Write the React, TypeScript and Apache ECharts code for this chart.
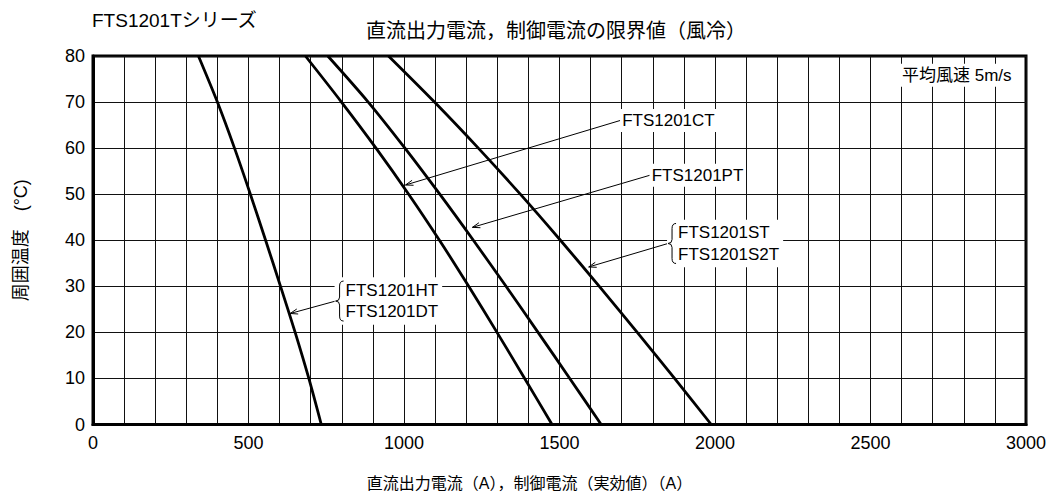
import React, { useEffect, useRef } from "react";
import * as echarts from "echarts";

// ---- data ----
const temperatures = [80, 70, 60, 50, 40, 30, 20, 10, 0];
const currentHT = [339, 400, 455, 506, 555, 603, 650, 694, 734];
const currentCT = [683, 799, 910, 1015, 1114, 1208, 1299, 1388, 1476];
const currentPT = [755, 885, 1003, 1115, 1223, 1328, 1431, 1533, 1634];
const currentST = [950, 1098, 1239, 1374, 1503, 1628, 1750, 1870, 1988];
const curves = [currentHT, currentCT, currentPT, currentST];

const xTicks = [0, 500, 1000, 1500, 2000, 2500, 3000];
const yTicks = [0, 10, 20, 30, 40, 50, 60, 70, 80];

// ---- annotation layout (data coordinates) ----
const annotations = [
  { kind: "label", lines: ["FTS1201CT"], anchor: [1695, 66], tip: [1005, 52] },
  { kind: "label", lines: ["FTS1201PT"], anchor: [1790, 54.1], tip: [1220, 42.8] },
  { kind: "brace", lines: ["FTS1201ST", "FTS1201S2T"], anchor: [1849, 39.3], tip: [1594, 34.2] },
  { kind: "brace", lines: ["FTS1201HT", "FTS1201DT"], anchor: [780, 26.8], tip: [634, 24.1] },
  { kind: "note", lines: ["平均風速 5m/s"], anchor: [2960, 75.8], tip: null },
];

const FAMILY = "'Liberation Sans', Arial, 'Noto Sans CJK JP', sans-serif";
const LABEL_FONT = `17px ${FAMILY}`;

function renderItem(params: any, api: any) {
  const a = annotations[params.dataIndex];
  const p = api.coord(a.anchor);
  const children: any[] = [];
  if (a.kind === "note") {
    children.push({
      type: "text",
      style: {
        text: a.lines[0], x: p[0], y: p[1], textAlign: "right", textVerticalAlign: "middle",
        font: LABEL_FONT, fill: "#000", backgroundColor: "#fff", padding: [3, 2, 3, 2],
      },
    });
    return { type: "group", children };
  }
  const t = api.coord(a.tip);
  children.push({
    type: "line",
    shape: { x1: p[0], y1: p[1], x2: t[0], y2: t[1] },
    style: { stroke: "#000", lineWidth: 1 },
  });
  const ang = Math.atan2(p[1] - t[1], p[0] - t[0]);
  const L = 8, w = 0.33;
  children.push({
    type: "polyline",
    shape: {
      points: [
        [t[0] + L * Math.cos(ang + w), t[1] + L * Math.sin(ang + w)],
        [t[0], t[1]],
        [t[0] + L * Math.cos(ang - w), t[1] + L * Math.sin(ang - w)],
      ],
    },
    style: { stroke: "#000", fill: null, lineWidth: 1 },
  });
  if (a.kind === "brace") {
    const x = p[0], y = p[1];
    children.push({
      type: "text",
      style: {
        text: a.lines.join("\n"), x: x - 1, y, textAlign: "left", textVerticalAlign: "middle",
        font: LABEL_FONT, fill: "#000", lineHeight: 21.7, backgroundColor: "#fff", padding: [2, 4, 2, 11],
      },
    });
    const d = `M${x + 8} ${y - 20} Q${x + 4} ${y - 20} ${x + 4} ${y - 15} L${x + 4} ${y - 4} Q${x + 4} ${y} ${x} ${y} Q${x + 4} ${y} ${x + 4} ${y + 4} L${x + 4} ${y + 15} Q${x + 4} ${y + 20} ${x + 8} ${y + 20}`;
    children.push({
      type: "path",
      shape: { pathData: d },
      style: { stroke: "#000", fill: null, lineWidth: 1 },
    });
  } else {
    children.push({
      type: "text",
      style: {
        text: a.lines[0], x: p[0], y: p[1], textAlign: "left", textVerticalAlign: "middle",
        font: LABEL_FONT, fill: "#000", backgroundColor: "#fff", padding: [3, 2, 3, 2],
      },
    });
  }
  return { type: "group", children };
}

export default function App() {
  const ref = useRef<HTMLDivElement>(null);
  useEffect(() => {
    document.body.style.margin = "0";
    const chart = echarts.init(ref.current!, null, { renderer: "svg" });
    const gridLine = { show: true, lineStyle: { color: "#111", width: 1 } };
    chart.setOption({
      animation: false,
      backgroundColor: "#fff",
      graphic: [
        {
          type: "text", left: 92, top: 11,
          style: { text: "FTS1201Tシリーズ", font: `19px ${FAMILY}`, fill: "#000" },
        },
        {
          type: "text", x: 556, y: 31,
          style: {
            text: "直流出力電流，制御電流の限界値（風冷）", font: `20px ${FAMILY}`, fill: "#000",
            textAlign: "center", textVerticalAlign: "middle",
          },
        },
      ],
      grid: {
        left: 93, top: 56, width: 933, height: 368.5,
        show: true, borderColor: "#000", borderWidth: 3, backgroundColor: "transparent",
      },
      xAxis: {
        type: "value", min: xTicks[0], max: xTicks[xTicks.length - 1], interval: 500,
        axisLine: { show: true, lineStyle: { color: "#000", width: 3 } },
        axisTick: { show: false },
        axisLabel: { fontSize: 18, color: "#000", margin: 9, fontFamily: FAMILY, formatter: (v: number) => String(v) },
        splitLine: gridLine,
        minorTick: { show: false, splitNumber: 5 },
        minorSplitLine: gridLine,
        name: "直流出力電流（A），制御電流（実効値）（A）",
        nameLocation: "middle", nameGap: 51,
        nameTextStyle: { fontSize: 16, color: "#000", fontFamily: FAMILY, padding: [0, 60, 0, 0] },
      },
      yAxis: {
        type: "value", min: yTicks[0], max: yTicks[yTicks.length - 1], interval: 10,
        axisLine: { show: true, lineStyle: { color: "#000", width: 3 } },
        axisTick: { show: false },
        axisLabel: { fontSize: 18, color: "#000", margin: 8, fontFamily: FAMILY, formatter: (v: number) => String(v) },
        splitLine: gridLine,
        name: "周囲温度　(°C)",
        nameLocation: "middle", nameRotate: 90, nameGap: 63,
        nameTextStyle: { fontSize: 18, color: "#000", fontFamily: FAMILY },
      },
      series: [
        ...curves.map((vals) => ({
          type: "line",
          data: temperatures.map((t, i) => [vals[i], t]),
          symbol: "none",
          smooth: 0.3,
          lineStyle: { color: "#000", width: 2.8 },
          z: 3,
        })),
        {
          type: "custom",
          coordinateSystem: "cartesian2d",
          renderItem,
          data: annotations.map((a) => a.anchor),
          clip: false,
          z: 5,
          silent: true,
        },
      ],
    });
    return () => chart.dispose();
  }, []);
  return <div ref={ref} style={{ width: 1058, height: 499 }} />;
}
